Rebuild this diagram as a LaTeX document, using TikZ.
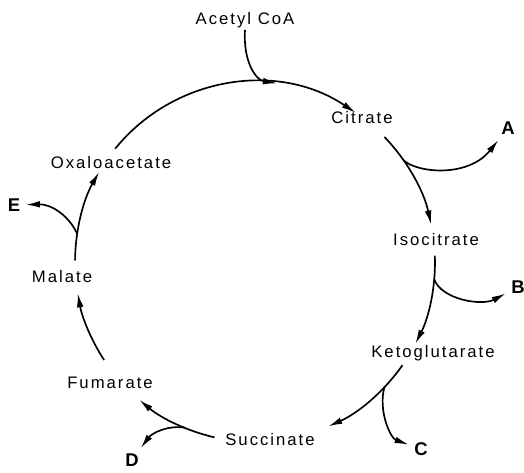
\documentclass[tikz,border=0pt]{standalone}
\usepackage{fontspec}
\setmainfont{Liberation Sans}[LetterSpace=12]
\usetikzlibrary{arrows.meta,calc}

\begin{document}
\begin{tikzpicture}[x=0.02cm, y=-0.02cm,
  metab/.style={font=\fontsize{9.5}{11}\selectfont, inner sep=1pt},
  prod/.style={font=\fontsize{10.5}{12}\selectfont\bfseries, inner sep=3pt},
  flow/.style={line width=0.95pt, -{Latex[length=8pt,width=3.8pt]}}]
  \useasboundingbox (0,0) rectangle (524,473);
  % Ring
  \coordinate (hub) at (255,262);
  \def\R{3.6cm}

  % Metabolites
  \node[metab] (acetyl) at (245,20) {Acetyl CoA};
  \node[metab] (citrate) at (362,118) {Citrate};
  \node[metab] (isocitrate) at (436,240) {Isocitrate};
  \node[metab] (keto) at (433,353) {Ketoglutarate};
  \node[metab] (succinate) at (270,440) {Succinate};
  \node[metab] (fumarate) at (110,383) {Fumarate};
  \node[metab] (malate) at (62,277) {Malate};
  \node[metab] (oxalo) at (111,163) {Oxaloacetate};

  % Side products
  \node[prod] (A) at (508,128) {A};
  \node[prod] (B) at (518,287) {B};
  \node[prod] (C) at (421,449) {C};
  \node[prod] (D) at (132,460) {D};
  \node[prod] (E) at (14,205) {E};

  % Points on the ring
  \coordinate (acetyl-in) at ($(hub)+(83:\R)$);
  \coordinate (oxalo-out) at ($(hub)+(141:\R)$);
  \coordinate (citrate-out) at ($(hub)+(44:\R)$);
  \coordinate (A-fork) at ($(hub)+(34.5:\R)$);
  \coordinate (isocitrate-out) at ($(hub)+(2:\R)$);
  \coordinate (B-fork) at ($(hub)+(-5.5:\R)$);
  \coordinate (keto-out) at ($(hub)+(-35:\R)$);
  \coordinate (C-fork) at ($(hub)+(-44:\R)$);
  \coordinate (succinate-out) at ($(hub)+(-103:\R)$);
  \coordinate (D-fork) at ($(hub)+(-113:\R)$);
  \coordinate (fumarate-out) at ($(hub)+(213:\R)$);
  \coordinate (malate-out) at ($(hub)+(179.5:\R)$);
  \coordinate (E-fork) at ($(hub)+(171:\R)$);

  % Cycle steps
  \draw[flow] (oxalo-out) arc[start angle=141, end angle=56, radius=\R];
  \draw[flow] (citrate-out) arc[start angle=44, end angle=12, radius=\R];
  \draw[flow] (isocitrate-out) arc[start angle=2, end angle=-27, radius=\R];
  \draw[flow] (keto-out) arc[start angle=-35, end angle=-66, radius=\R];
  \draw[flow] (succinate-out) arc[start angle=-103, end angle=-130, radius=\R];
  \draw[flow] (fumarate-out) arc[start angle=213, end angle=190, radius=\R];
  \draw[flow] (malate-out) arc[start angle=179.5, end angle=150, radius=\R];

  % Feed and branches
  \draw[flow] (acetyl.south) .. controls (243,62) and (256,80) .. (acetyl-in);
  \draw[flow] (A-fork) .. controls (417,173) and (468,178) .. (A);
  \draw[flow] (B-fork) .. controls (442,300) and (482,306) .. (B);
  \draw[flow] (C-fork) .. controls (378,410) and (390,438) .. (C);
  \draw[flow] (D-fork) .. controls (168,425) and (152,433) .. (D);
  \draw[flow] (E-fork) .. controls (68,214) and (50,204) .. (E);
\end{tikzpicture}
\end{document}
